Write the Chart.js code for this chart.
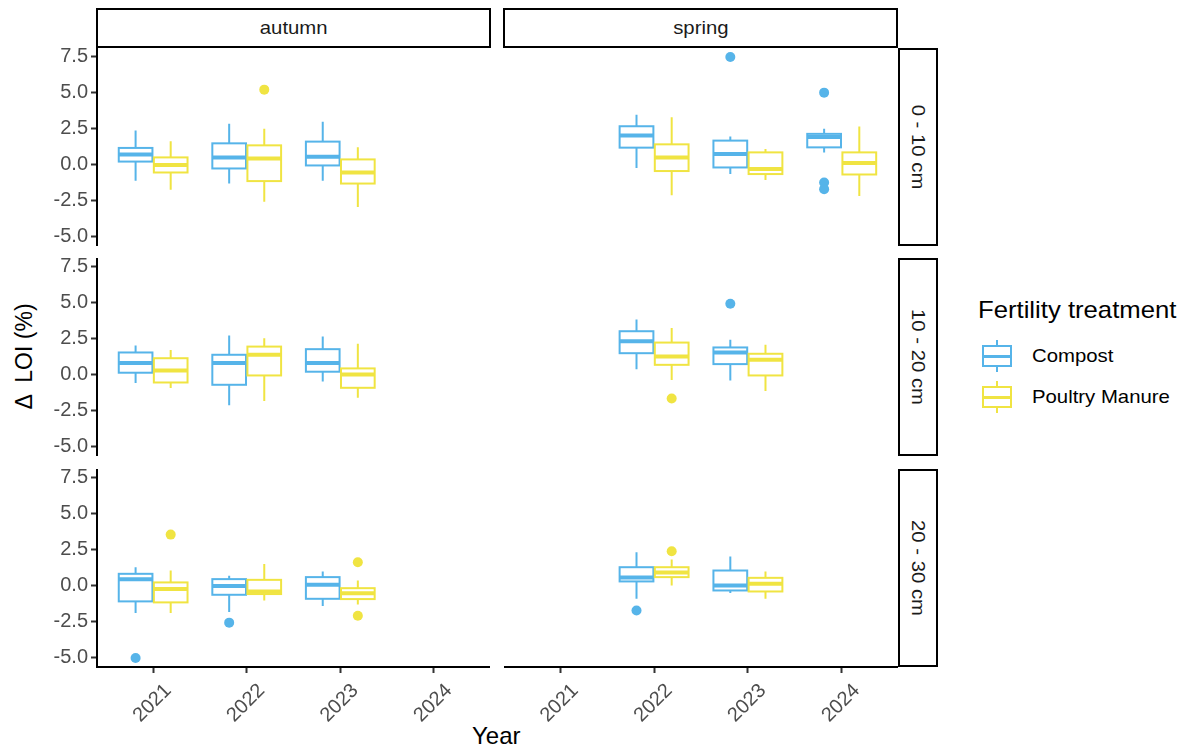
<!DOCTYPE html>
<html>
<head>
<meta charset="utf-8">
<script src="https://cdn.jsdelivr.net/npm/chart.js@4.4.1/dist/chart.umd.min.js"></script>
<style>
  body { margin: 0; background: #fff; font-family: "Liberation Sans", Arial, sans-serif; }
  #page { position: relative; width: 1187px; height: 751px; overflow: hidden; background: #fff; }
  .strip { position: absolute; box-sizing: border-box; border: 2px solid #000; background: #fff;
           display: flex; align-items: center; justify-content: center; color: #1a1a1a; font-size: 19px; }
  .strip span { display: inline-block; white-space: nowrap; transform: scaleX(1.07); }
  .strip.side span { transform: rotate(90deg) scaleX(1.07); }
  .txt { position: absolute; white-space: pre; color: #000; }
  .key { position: absolute; width: 32px; height: 32px; }
  .key .wh { position: absolute; left: 15px; top: 0; width: 2px; height: 32px; }
  .key .bx { position: absolute; left: 1px; top: 5px; width: 30px; height: 22px; box-sizing: border-box;
             border: 2px solid; background: #fff; }
  .key .md { position: absolute; left: 1px; top: 15px; width: 30px; height: 2.5px; }
</style>
</head>
<body>
<div id="page">
  <div class="strip" style="left:96px;top:8px;width:395px;height:40px"><span>autumn</span></div>
  <div class="strip" style="left:503px;top:8px;width:395px;height:40px"><span>spring</span></div>
  <div class="strip side" style="left:898px;top:48px;width:40px;height:198px"><span>0 - 10 cm</span></div>
  <div class="strip side" style="left:898px;top:258px;width:40px;height:198px"><span>10 - 20 cm</span></div>
  <div class="strip side" style="left:898px;top:469px;width:40px;height:198px"><span>20 - 30 cm</span></div>

  <div class="txt" style="left:472px;top:724px;font-size:24px;line-height:24px">Year</div>
  <div class="txt" style="left:-36px;top:345px;width:120px;text-align:center;font-size:23px;line-height:23px;transform:rotate(-90deg)">Δ  LOI (%)</div>

  <div class="txt" style="left:978px;top:298px;font-size:24px;line-height:24px;transform-origin:left;transform:scaleX(1.07)">Fertility treatment</div>
  <div class="key" style="left:981px;top:340px">
    <div class="wh" style="background:#56B4E9"></div><div class="bx" style="border-color:#56B4E9"></div><div class="md" style="background:#56B4E9"></div>
  </div>
  <div class="txt" style="left:1032px;top:346px;font-size:19px;line-height:19px;transform-origin:left;transform:scaleX(1.07)">Compost</div>
  <div class="key" style="left:981px;top:381px">
    <div class="wh" style="background:#F0E442"></div><div class="bx" style="border-color:#F0E442"></div><div class="md" style="background:#F0E442"></div>
  </div>
  <div class="txt" style="left:1032px;top:387px;font-size:19px;line-height:19px;transform-origin:left;transform:scaleX(1.07)">Poultry Manure</div>
</div>

<script>
// categories
const years = ['2021', '2022', '2023', '2024'];
const seasons = ['autumn', 'spring'];
const depths = ['0 - 10 cm', '10 - 20 cm', '20 - 30 cm'];
const treatments = ['Compost', 'Poultry Manure'];
const treatmentColors = ['#56B4E9', '#F0E442'];
const yTicks = [-5, -2.5, 0, 2.5, 5, 7.5];

// box stats: [year, lower whisker, Q1, median, Q3, upper whisker]
const compostAutumn0 = [['2021', -1.14, 0.20, 0.70, 1.15, 2.36], ['2022', -1.33, -0.28, 0.49, 1.47, 2.83], ['2023', -1.14, -0.07, 0.54, 1.59, 2.97]];
const poultryAutumn0 = [['2021', -1.77, -0.56, -0.04, 0.49, 1.61], ['2022', -2.59, -1.16, 0.42, 1.33, 2.48], ['2023', -2.96, -1.33, -0.56, 0.35, 1.19]];
const compostSpring0 = [['2022', -0.25, 1.17, 2.01, 2.66, 3.46], ['2023', -0.67, -0.21, 0.73, 1.66, 1.94], ['2024', 0.84, 1.19, 1.92, 2.13, 2.48]];
const poultrySpring0 = [['2022', -2.15, -0.46, 0.49, 1.40, 3.29], ['2023', -1.09, -0.67, -0.32, 0.84, 1.08], ['2024', -2.19, -0.70, 0.10, 0.84, 2.64]];

const compostAutumn10 = [['2021', -0.60, 0.12, 0.79, 1.53, 2.01], ['2022', -2.15, -0.72, 0.79, 1.37, 2.71], ['2023', -0.49, 0.19, 0.79, 1.76, 2.64]];
const poultryAutumn10 = [['2021', -0.95, -0.56, 0.28, 1.13, 1.71], ['2022', -1.85, -0.07, 1.37, 1.94, 2.52], ['2023', -1.62, -0.93, 0.00, 0.42, 2.13]];
const compostSpring10 = [['2022', 0.37, 1.48, 2.31, 3.01, 3.82], ['2023', -0.42, 0.72, 1.53, 1.88, 2.41]];
const poultrySpring10 = [['2022', -0.39, 0.67, 1.25, 2.22, 3.24], ['2023', -1.16, -0.07, 1.02, 1.44, 2.06]];

const compostAutumn20 = [['2021', -1.92, -1.11, 0.44, 0.81, 1.27], ['2022', -1.85, -0.65, -0.04, 0.44, 0.67], ['2023', -1.44, -0.93, 0.05, 0.58, 0.97]];
const poultryAutumn20 = [['2021', -1.92, -1.18, -0.25, 0.21, 1.04], ['2022', -1.04, -0.60, -0.42, 0.39, 1.50], ['2023', -1.32, -0.95, -0.55, -0.19, 0.35]];
const compostSpring20 = [['2022', -0.93, 0.28, 0.55, 1.27, 2.31], ['2023', -0.53, -0.35, 0.00, 1.04, 2.01]];
const poultrySpring20 = [['2022', 0.00, 0.58, 0.90, 1.27, 1.80], ['2023', -0.93, -0.42, 0.12, 0.53, 0.97]];

// outliers: [year, value]
const compostOutAutumn0 = [];
const poultryOutAutumn0 = [['2022', 5.21]];
const compostOutSpring0 = [['2023', 7.48], ['2024', 5.00], ['2024', -1.26], ['2024', -1.72]];
const poultryOutSpring0 = [];
const compostOutAutumn10 = [];
const poultryOutAutumn10 = [];
const compostOutSpring10 = [['2023', 4.92]];
const poultryOutSpring10 = [['2022', -1.67]];
const compostOutAutumn20 = [['2021', -5.05], ['2022', -2.59]];
const poultryOutAutumn20 = [['2021', 3.54], ['2023', 1.62], ['2023', -2.11]];
const compostOutSpring20 = [['2022', -1.74]];
const poultryOutSpring20 = [['2022', 2.38]];

// [depth row][season col] -> [compost, poultry]
const panelBoxes = [
  [[compostAutumn0, poultryAutumn0], [compostSpring0, poultrySpring0]],
  [[compostAutumn10, poultryAutumn10], [compostSpring10, poultrySpring10]],
  [[compostAutumn20, poultryAutumn20], [compostSpring20, poultrySpring20]]
];
const panelOutliers = [
  [[compostOutAutumn0, poultryOutAutumn0], [compostOutSpring0, poultryOutSpring0]],
  [[compostOutAutumn10, poultryOutAutumn10], [compostOutSpring10, poultryOutSpring10]],
  [[compostOutAutumn20, poultryOutAutumn20], [compostOutSpring20, poultryOutSpring20]]
];

const DODGE = [-0.1875, 0.1875];
const BOX_W = 0.36;
const ROW_TOP = [48, 258, 469];
const ROW_H = 198;
const COL_LEFT = [0, 504];
const COL_W = [490, 394];
const FONT = {family: '"Liberation Sans", Arial, sans-serif', size: 20};

// draws the boxes with the chart's own scales
function boxPlugin(sets) {
  return {
    id: 'boxes',
    beforeDatasetsDraw(chart) {
      const ctx = chart.ctx, x = chart.scales.x, y = chart.scales.y;
      ctx.save();
      sets.forEach((rows, i) => {
        ctx.strokeStyle = treatmentColors[i];
        rows.forEach(([yr, lo, q1, med, q3, hi]) => {
          const xc = years.indexOf(yr) + 1 + DODGE[i];
          const left = x.getPixelForValue(xc - BOX_W / 2);
          const right = x.getPixelForValue(xc + BOX_W / 2);
          const mid = x.getPixelForValue(xc);
          // whiskers
          ctx.lineWidth = 2;
          ctx.beginPath();
          ctx.moveTo(mid, y.getPixelForValue(hi));
          ctx.lineTo(mid, y.getPixelForValue(q3));
          ctx.moveTo(mid, y.getPixelForValue(q1));
          ctx.lineTo(mid, y.getPixelForValue(lo));
          ctx.stroke();
          // box
          const top = y.getPixelForValue(q3), bot = y.getPixelForValue(q1);
          ctx.fillStyle = '#fff';
          ctx.fillRect(left, top, right - left, bot - top);
          ctx.strokeRect(left, top, right - left, bot - top);
          // median
          ctx.lineWidth = 4;
          ctx.beginPath();
          ctx.moveTo(left, y.getPixelForValue(med));
          ctx.lineTo(right, y.getPixelForValue(med));
          ctx.stroke();
        });
      });
      ctx.restore();
    }
  };
}

const axisGrid = {display: true, drawOnChartArea: false, drawTicks: true, tickLength: 6, tickColor: '#333', tickWidth: 2};
const axisBorder = {display: true, color: '#000', width: 2};

function makePanel(r, c) {
  const isLeft = c === 0, isBottom = r === 2;
  const w = COL_W[c], h = ROW_H + (isBottom ? 62 : 0);
  const canvas = document.createElement('canvas');
  canvas.width = w; canvas.height = h;
  canvas.style.cssText = `position:absolute;left:${COL_LEFT[c]}px;top:${ROW_TOP[r]}px;width:${w}px;height:${h}px`;
  document.getElementById('page').appendChild(canvas);

  const outs = panelOutliers[r][c];
  new Chart(canvas, {
    type: 'scatter',
    data: {
      datasets: treatments.map((t, i) => ({
        label: t,
        data: outs[i].map(([yr, v]) => ({x: years.indexOf(yr) + 1 + DODGE[i], y: v})),
        backgroundColor: treatmentColors[i],
        borderWidth: 0,
        pointRadius: 5,
        pointHoverRadius: 5,
        clip: false
      }))
    },
    options: {
      responsive: false,
      animation: false,
      events: [],
      layout: {padding: 0, autoPadding: false},
      plugins: {legend: {display: false}, tooltip: {enabled: false}},
      scales: {
        x: {
          type: 'linear', min: 0.4, max: 4.6, display: isBottom,
          afterBuildTicks: s => { s.ticks = years.map((_, i) => ({value: i + 1})); },
          afterFit: isBottom ? s => { s.height = 62; s.paddingLeft = 0; s.paddingRight = 0; } : undefined,
          ticks: {callback: v => years[v - 1], autoSkip: false, maxRotation: 45, minRotation: 45, labelOffset: 15,
                  font: FONT, color: '#4D4D4D', padding: 6},
          grid: axisGrid,
          border: axisBorder
        },
        y: {
          type: 'linear', min: -5.68, max: 8.11, display: isLeft,
          afterBuildTicks: s => { s.ticks = yTicks.map(v => ({value: v})); },
          afterFit: isLeft ? s => { s.width = 97; s.paddingTop = 0; s.paddingBottom = 0; } : undefined,
          ticks: {callback: v => v.toFixed(1), font: FONT, color: '#4D4D4D', padding: 3},
          grid: axisGrid,
          border: axisBorder
        }
      }
    },
    plugins: [boxPlugin(panelBoxes[r][c])]
  });
}

for (let r = 0; r < depths.length; r++) {
  for (let c = 0; c < seasons.length; c++) makePanel(r, c);
}
</script>
</body>
</html>
